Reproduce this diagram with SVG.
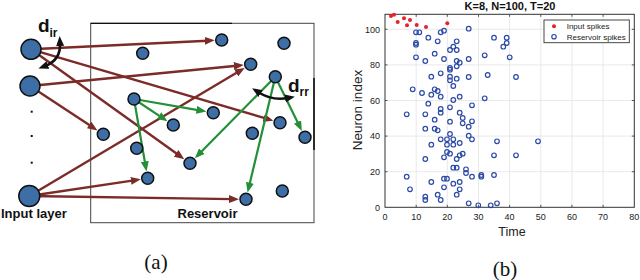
<svg xmlns="http://www.w3.org/2000/svg" width="640" height="280" viewBox="0 0 640 280">
<style>
.nd{fill:#3d6fa6;stroke:#111;stroke-width:1.5}
.br{stroke:#7b2c29;stroke-width:2.4;fill:none;marker-end:url(#ab)}
.gr{stroke:#239038;stroke-width:2.2;fill:none;marker-end:url(#ag)}
.bk{stroke:#111;stroke-width:2.6;fill:none;marker-start:url(#ak);marker-end:url(#ak)}
.lb{font-family:"Liberation Sans",Arial,sans-serif;font-weight:bold;fill:#111}
.tk{font-family:"Liberation Sans",Arial,sans-serif;font-size:9px;fill:#222}
.grid line{stroke:#e4e4e4;stroke-width:0.8}
.ticks line{stroke:#333;stroke-width:0.8}
.bs circle{fill:none;stroke:#2b49a6;stroke-width:1.2}
.rs circle{fill:#e8222a;stroke:none}
</style>
<defs>
<marker id="ab" viewBox="0 0 10 8" markerWidth="10" markerHeight="8" markerUnits="userSpaceOnUse" refX="3" refY="4" orient="auto"><path d="M0,0 L10,4 L0,8 z" fill="#7b2c29"/></marker>
<marker id="ag" viewBox="0 0 10 8" markerWidth="10" markerHeight="8" markerUnits="userSpaceOnUse" refX="3" refY="4" orient="auto"><path d="M0,0 L10,4 L0,8 z" fill="#239038"/></marker>
<marker id="ak" viewBox="0 0 10 8" markerWidth="10" markerHeight="9" markerUnits="userSpaceOnUse" refX="3" refY="4" orient="auto-start-reverse"><path d="M0,0 L10,4 L0,8 z" fill="#111"/></marker>
</defs>
<rect width="640" height="280" fill="#fff"/>

<!-- Panel (a) -->
<g id="reservoir-box">
<rect x="90.7" y="23.3" width="223.3" height="199.4" fill="none" stroke="#444" stroke-width="1"/>
<line x1="90.7" y1="23.3" x2="232" y2="23.3" stroke="#111" stroke-width="1.3"/>
<line x1="314" y1="78" x2="314" y2="150" stroke="#111" stroke-width="1.6"/>
</g>

<g id="connectors">
<line class="br" x1="31" y1="49.3" x2="207.7" y2="40.7"/>
<line class="br" x1="31" y1="49.3" x2="266.6" y2="118.7"/>
<line class="br" x1="31" y1="49.3" x2="178.6" y2="155.1"/>
<line class="br" x1="30" y1="86" x2="236.8" y2="65.7"/>
<line class="br" x1="30" y1="86" x2="91.6" y2="126.6"/>
<line class="br" x1="29.3" y1="196" x2="238.7" y2="71.5"/>
<line class="br" x1="29.3" y1="196" x2="133.9" y2="180.4"/>
<line class="br" x1="29.3" y1="196" x2="232" y2="199.1"/>
<line class="gr" x1="134" y1="99" x2="199.5" y2="110.3"/>
<line class="gr" x1="134" y1="99" x2="161.6" y2="117.3"/>
<line class="gr" x1="134" y1="99" x2="145.3" y2="164.5"/>
<line class="gr" x1="275.3" y1="76.7" x2="199.8" y2="153.3"/>
<line class="gr" x1="275.3" y1="76.7" x2="249.2" y2="185.7"/>
<line class="gr" x1="275.3" y1="76.7" x2="298.8" y2="124.7"/>
<path class="bk" d="M60,43 Q61,60 45,66"/>
<path class="bk" d="M258,92 Q272,101 288,98"/>
</g>

<g id="input-layer">
<circle class="nd" cx="31" cy="49.3" r="10"/>
<circle class="nd" cx="30" cy="86" r="10"/>
<circle class="nd" cx="29.3" cy="196" r="10.5"/>
<rect x="30.7" y="110.7" width="2" height="2" fill="#111"/>
<rect x="30.7" y="135" width="2" height="2" fill="#111"/>
<rect x="30.7" y="161.7" width="2" height="2" fill="#111"/>
<text class="lb" x="1" y="218" font-size="13">Input layer</text>
</g>

<g id="reservoir-nodes">
<circle class="nd" cx="221.7" cy="40" r="6"/>
<circle class="nd" cx="284" cy="43.3" r="6"/>
<circle class="nd" cx="142.7" cy="53.3" r="6"/>
<circle class="nd" cx="250.7" cy="64.3" r="6"/>
<circle class="nd" cx="275.3" cy="76.7" r="6"/>
<circle class="nd" cx="134" cy="99" r="6"/>
<circle class="nd" cx="213.3" cy="112.7" r="6"/>
<circle class="nd" cx="173.3" cy="125" r="6"/>
<circle class="nd" cx="280" cy="122.7" r="6"/>
<circle class="nd" cx="103.3" cy="134.3" r="6"/>
<circle class="nd" cx="252.3" cy="133.3" r="6"/>
<circle class="nd" cx="305" cy="137.3" r="6"/>
<circle class="nd" cx="136.7" cy="148.3" r="6"/>
<circle class="nd" cx="190" cy="163.3" r="6"/>
<circle class="nd" cx="147.7" cy="178.3" r="6"/>
<circle class="nd" cx="282.3" cy="191" r="6"/>
<circle class="nd" cx="246" cy="199.3" r="6"/>
<text class="lb" x="207.5" y="218" font-size="13" text-anchor="middle">Reservoir</text>
</g>

<g id="labels-a">
<text class="lb" x="38" y="32" font-size="19">d</text>
<text class="lb" x="49.5" y="37" font-size="12">ir</text>
<text class="lb" x="288" y="92" font-size="19">d</text>
<text class="lb" x="299.5" y="96" font-size="12">rr</text>
<text x="156" y="269" font-family="Liberation Serif,serif" font-size="21" text-anchor="middle" fill="#111">(a)</text>
</g>

<!-- Panel (b) -->
<g id="plot">
<g class="grid">
<line x1="416.2" y1="14.3" x2="416.2" y2="207.3"/><line x1="447.3" y1="14.3" x2="447.3" y2="207.3"/>
<line x1="478.5" y1="14.3" x2="478.5" y2="207.3"/><line x1="509.6" y1="14.3" x2="509.6" y2="207.3"/>
<line x1="540.8" y1="14.3" x2="540.8" y2="207.3"/><line x1="571.9" y1="14.3" x2="571.9" y2="207.3"/>
<line x1="603.1" y1="14.3" x2="603.1" y2="207.3"/>
<line x1="385" y1="171.7" x2="634.3" y2="171.7"/><line x1="385" y1="136.1" x2="634.3" y2="136.1"/>
<line x1="385" y1="100.5" x2="634.3" y2="100.5"/><line x1="385" y1="64.9" x2="634.3" y2="64.9"/>
<line x1="385" y1="29.3" x2="634.3" y2="29.3"/>
</g>
<rect x="385" y="14.3" width="249.3" height="193" fill="none" stroke="#333" stroke-width="1"/>
<g class="ticks">
<line x1="416.2" y1="207.3" x2="416.2" y2="204.8"/><line x1="447.3" y1="207.3" x2="447.3" y2="204.8"/>
<line x1="478.5" y1="207.3" x2="478.5" y2="204.8"/><line x1="509.6" y1="207.3" x2="509.6" y2="204.8"/>
<line x1="540.8" y1="207.3" x2="540.8" y2="204.8"/><line x1="571.9" y1="207.3" x2="571.9" y2="204.8"/>
<line x1="603.1" y1="207.3" x2="603.1" y2="204.8"/>
<line x1="416.2" y1="14.3" x2="416.2" y2="16.8"/><line x1="447.3" y1="14.3" x2="447.3" y2="16.8"/>
<line x1="478.5" y1="14.3" x2="478.5" y2="16.8"/><line x1="509.6" y1="14.3" x2="509.6" y2="16.8"/>
<line x1="540.8" y1="14.3" x2="540.8" y2="16.8"/><line x1="571.9" y1="14.3" x2="571.9" y2="16.8"/>
<line x1="603.1" y1="14.3" x2="603.1" y2="16.8"/>
<line x1="385" y1="171.7" x2="387.5" y2="171.7"/><line x1="385" y1="136.1" x2="387.5" y2="136.1"/>
<line x1="385" y1="100.5" x2="387.5" y2="100.5"/><line x1="385" y1="64.9" x2="387.5" y2="64.9"/>
<line x1="385" y1="29.3" x2="387.5" y2="29.3"/>
<line x1="634.3" y1="171.7" x2="631.8" y2="171.7"/><line x1="634.3" y1="136.1" x2="631.8" y2="136.1"/>
<line x1="634.3" y1="100.5" x2="631.8" y2="100.5"/><line x1="634.3" y1="64.9" x2="631.8" y2="64.9"/>
<line x1="634.3" y1="29.3" x2="631.8" y2="29.3"/>
</g>
<g class="tk" text-anchor="middle">
<text x="385" y="220">0</text><text x="416.2" y="220">10</text><text x="447.3" y="220">20</text>
<text x="478.5" y="220">30</text><text x="509.6" y="220">40</text><text x="540.8" y="220">50</text>
<text x="571.9" y="220">60</text><text x="603.1" y="220">70</text><text x="634.3" y="220">80</text>
</g>
<g class="tk" text-anchor="end">
<text x="380" y="210.5">0</text><text x="380" y="174.9">20</text><text x="380" y="139.3">40</text>
<text x="380" y="103.7">60</text><text x="380" y="68.1">80</text><text x="380" y="32.5">100</text>
</g>
<text x="510" y="10" font-family="Liberation Sans,Arial,sans-serif" font-weight="bold" font-size="11" text-anchor="middle" fill="#111">K=8, N=100, T=20</text>
<text x="0" y="0" transform="translate(362,110) rotate(-90)" font-family="Liberation Sans,Arial,sans-serif" font-size="13.5" text-anchor="middle" fill="#222">Neuron index</text>
<text x="512" y="236" font-family="Liberation Sans,Arial,sans-serif" font-size="12.5" text-anchor="middle" fill="#222">Time</text>

<g class="rs">
<circle cx="391" cy="16" r="2"/><circle cx="394" cy="14.7" r="2"/><circle cx="397.7" cy="22" r="2"/>
<circle cx="404" cy="18.3" r="2"/><circle cx="407" cy="25.3" r="2"/><circle cx="410" cy="20" r="2"/>
<circle cx="416.7" cy="25" r="2"/><circle cx="426" cy="27" r="2"/><circle cx="447.3" cy="23.3" r="2"/>
</g>
<g class="bs">
<circle cx="406.7" cy="114.3" r="2.3"/><circle cx="406.7" cy="176.7" r="2.3"/><circle cx="410" cy="189.3" r="2.3"/>
<circle cx="412.7" cy="89.3" r="2.3"/><circle cx="416" cy="32.3" r="2.3"/><circle cx="416" cy="43" r="2.3"/>
<circle cx="416" cy="44.7" r="2.3"/><circle cx="416" cy="57.3" r="2.3"/><circle cx="419.3" cy="32.3" r="2.3"/>
<circle cx="422" cy="93" r="2.3"/><circle cx="425.3" cy="61" r="2.3"/><circle cx="425.3" cy="114.3" r="2.3"/>
<circle cx="425.3" cy="128.7" r="2.3"/><circle cx="425.3" cy="159" r="2.3"/><circle cx="425.3" cy="196.7" r="2.3"/>
<circle cx="425.3" cy="200" r="2.3"/><circle cx="428.3" cy="37.7" r="2.3"/><circle cx="428.3" cy="103.7" r="2.3"/>
<circle cx="431.3" cy="76.7" r="2.3"/><circle cx="431.3" cy="94.7" r="2.3"/><circle cx="431.3" cy="144.7" r="2.3"/>
<circle cx="431.3" cy="182" r="2.3"/><circle cx="434.7" cy="53.7" r="2.3"/><circle cx="434.7" cy="89.3" r="2.3"/>
<circle cx="434.7" cy="119.7" r="2.3"/><circle cx="434.7" cy="128.7" r="2.3"/><circle cx="437.7" cy="41.3" r="2.3"/>
<circle cx="437.7" cy="91" r="2.3"/><circle cx="437.7" cy="130.3" r="2.3"/><circle cx="437.7" cy="194.7" r="2.3"/>
<circle cx="440.7" cy="32.3" r="2.3"/><circle cx="440.7" cy="73.3" r="2.3"/><circle cx="440.7" cy="96.7" r="2.3"/>
<circle cx="440.7" cy="109" r="2.3"/><circle cx="440.7" cy="112.7" r="2.3"/><circle cx="440.7" cy="139.3" r="2.3"/>
<circle cx="440.7" cy="200" r="2.3"/><circle cx="444" cy="30.7" r="2.3"/><circle cx="444" cy="59" r="2.3"/>
<circle cx="444" cy="157.3" r="2.3"/><circle cx="444" cy="178.7" r="2.3"/><circle cx="444" cy="187.3" r="2.3"/>
<circle cx="447" cy="139.3" r="2.3"/><circle cx="447" cy="144.7" r="2.3"/><circle cx="447" cy="152" r="2.3"/>
<circle cx="447" cy="178.7" r="2.3"/><circle cx="450" cy="50" r="2.3"/><circle cx="450" cy="68" r="2.3"/>
<circle cx="450" cy="69.7" r="2.3"/><circle cx="450" cy="76.7" r="2.3"/><circle cx="450" cy="80.3" r="2.3"/>
<circle cx="450" cy="107.3" r="2.3"/><circle cx="450" cy="121.7" r="2.3"/><circle cx="450" cy="134" r="2.3"/>
<circle cx="450" cy="153.7" r="2.3"/><circle cx="453.3" cy="46.7" r="2.3"/><circle cx="453.3" cy="86" r="2.3"/>
<circle cx="453.3" cy="100" r="2.3"/><circle cx="453.3" cy="139.3" r="2.3"/><circle cx="453.3" cy="144.7" r="2.3"/>
<circle cx="453.3" cy="167.7" r="2.3"/><circle cx="453.3" cy="183.7" r="2.3"/><circle cx="456.7" cy="41.3" r="2.3"/>
<circle cx="456.7" cy="50" r="2.3"/><circle cx="456.7" cy="61" r="2.3"/><circle cx="456.7" cy="66.3" r="2.3"/>
<circle cx="456.7" cy="78.7" r="2.3"/><circle cx="456.7" cy="159" r="2.3"/><circle cx="456.7" cy="167.7" r="2.3"/>
<circle cx="456.7" cy="194.7" r="2.3"/><circle cx="459.7" cy="62.7" r="2.3"/><circle cx="459.7" cy="96.7" r="2.3"/>
<circle cx="459.7" cy="112.7" r="2.3"/><circle cx="459.7" cy="143" r="2.3"/><circle cx="459.7" cy="155.3" r="2.3"/>
<circle cx="459.7" cy="182" r="2.3"/><circle cx="459.7" cy="189.3" r="2.3"/><circle cx="462.7" cy="118" r="2.3"/>
<circle cx="462.7" cy="123.3" r="2.3"/><circle cx="462.7" cy="153.7" r="2.3"/><circle cx="466" cy="169.3" r="2.3"/>
<circle cx="466" cy="173" r="2.3"/><circle cx="468.7" cy="28.7" r="2.3"/><circle cx="468.7" cy="59" r="2.3"/>
<circle cx="468.7" cy="77" r="2.3"/><circle cx="468.7" cy="126.7" r="2.3"/><circle cx="468.7" cy="135.7" r="2.3"/>
<circle cx="468.7" cy="203.3" r="2.3"/><circle cx="472" cy="105.3" r="2.3"/><circle cx="472" cy="121.3" r="2.3"/>
<circle cx="472" cy="139.3" r="2.3"/><circle cx="472" cy="176.7" r="2.3"/><circle cx="478.3" cy="205.3" r="2.3"/>
<circle cx="481.3" cy="175" r="2.3"/><circle cx="481.3" cy="176.7" r="2.3"/><circle cx="484.7" cy="55.3" r="2.3"/>
<circle cx="484.7" cy="98.3" r="2.3"/><circle cx="487.7" cy="75" r="2.3"/><circle cx="490.7" cy="205.3" r="2.3"/>
<circle cx="494" cy="37.7" r="2.3"/><circle cx="494" cy="155.3" r="2.3"/><circle cx="494" cy="175" r="2.3"/>
<circle cx="497" cy="141.3" r="2.3"/><circle cx="497" cy="203.3" r="2.3"/><circle cx="503.3" cy="46.7" r="2.3"/>
<circle cx="506.7" cy="37.7" r="2.3"/><circle cx="506.7" cy="43" r="2.3"/><circle cx="509.7" cy="57.3" r="2.3"/>
<circle cx="516" cy="77" r="2.3"/><circle cx="516" cy="155.3" r="2.3"/><circle cx="538" cy="141.3" r="2.3"/>
</g>
<g id="legend">
<rect x="544" y="20" width="85.3" height="22.7" fill="#fff" stroke="#333" stroke-width="0.9"/>
<circle cx="554" cy="26.3" r="2" fill="#e8222a"/>
<circle cx="554" cy="36.7" r="2.2" fill="none" stroke="#2b49a6" stroke-width="1.2"/>
<text x="566.7" y="29.3" font-family="Liberation Sans,Arial,sans-serif" font-size="8" fill="#222">Input spikes</text>
<text x="566.7" y="39.8" font-family="Liberation Sans,Arial,sans-serif" font-size="8" fill="#222">Reservoir spikes</text>
</g>
<text x="505" y="276" font-family="Liberation Serif,serif" font-size="21" text-anchor="middle" fill="#111">(b)</text>
</g>
</svg>
